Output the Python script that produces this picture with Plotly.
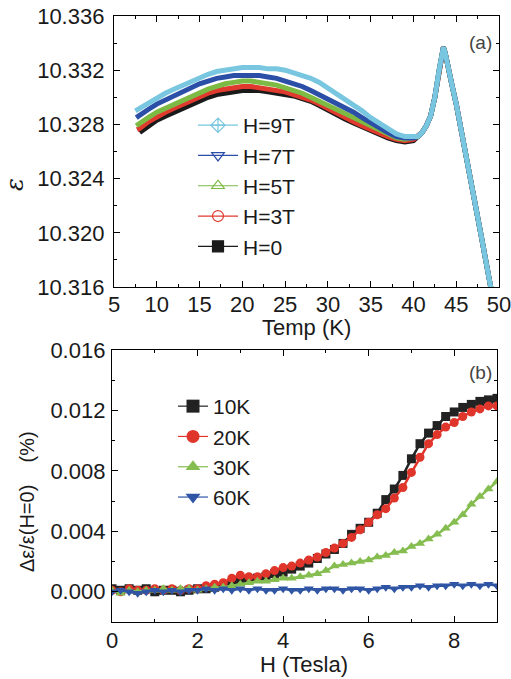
import plotly.graph_objects as go

# ---------------- Panel (a): permittivity vs temperature ----------------
T_low = [8, 9, 10, 11, 12, 13, 14, 15, 16, 17, 18, 19, 20, 21, 22, 23, 24,
         25, 26, 27, 28, 29, 30, 31, 32, 33, 34, 35, 36, 37, 38, 39, 40]
T_tail = [40.5, 41, 41.5, 42, 42.5, 43, 43.3, 43.5, 43.7, 44, 44.5, 45, 45.5,
          46, 46.5, 47, 47.5, 48, 48.5, 49, 49.5, 50]
eps_tail = [10.3271, 10.3274, 10.3279, 10.3286, 10.3300, 10.3320, 10.3332,
            10.3337, 10.3333, 10.3323, 10.3309, 10.3295, 10.3279, 10.3262,
            10.3245, 10.3229, 10.3212, 10.3195, 10.3178, 10.3161, 10.3144,
            10.3127]

a_labels = ["H=0", "H=3T", "H=5T", "H=7T", "H=9T"]
a_colors = ["#1a1a1a", "#e0392e", "#7dba44", "#2b4ea6", "#78c6df"]
a_symbols = ["square", "circle-open", "triangle-up-open",
             "triangle-down-open", "diamond-cross-open"]
a_start_T = [None, 7.7, 7.6, 7.6, 7.5]
a_start_eps = [None, 10.3276, 10.3279, 10.3285, 10.3290]

eps_H0 = [10.3274, 10.3279, 10.3283, 10.3286, 10.3289, 10.3292, 10.3295,
          10.3298, 10.3300, 10.3302, 10.3303, 10.3304, 10.3305, 10.3305,
          10.3305, 10.3304, 10.3303, 10.3302, 10.3301, 10.3299, 10.3297,
          10.3294, 10.3291, 10.3288, 10.3284, 10.3281, 10.3278, 10.3275,
          10.3272, 10.3270, 10.3268, 10.3267, 10.3268]
eps_H3 = [10.3277, 10.3282, 10.3286, 10.3289, 10.3292, 10.3295, 10.3298,
          10.3301, 10.3303, 10.3305, 10.3306, 10.3307, 10.3308, 10.3308,
          10.3307, 10.3306, 10.3305, 10.3304, 10.3302, 10.3300, 10.3298,
          10.3295, 10.3292, 10.3289, 10.3286, 10.3282, 10.3279, 10.3276,
          10.3273, 10.3271, 10.3269, 10.3268, 10.3269]
eps_H5 = [10.3281, 10.3285, 10.3289, 10.3292, 10.3295, 10.3298, 10.3301,
          10.3304, 10.3306, 10.3308, 10.3310, 10.3311, 10.3312, 10.3312,
          10.3311, 10.3310, 10.3309, 10.3307, 10.3305, 10.3303, 10.3300,
          10.3297, 10.3294, 10.3291, 10.3288, 10.3284, 10.3281, 10.3278,
          10.3275, 10.3272, 10.3270, 10.3269, 10.3270]
eps_H7 = [10.3287, 10.3291, 10.3295, 10.3298, 10.3301, 10.3304, 10.3307,
          10.3310, 10.3312, 10.3314, 10.3315, 10.3316, 10.3316, 10.3316,
          10.3316, 10.3315, 10.3314, 10.3312, 10.3310, 10.3308, 10.3305,
          10.3302, 10.3299, 10.3296, 10.3293, 10.3289, 10.3285, 10.3281,
          10.3277, 10.3274, 10.3271, 10.3270, 10.3270]
eps_H9 = [10.3292, 10.3296, 10.3300, 10.3303, 10.3306, 10.3309, 10.3312,
          10.3315, 10.3317, 10.3319, 10.3320, 10.3321, 10.3322, 10.3322,
          10.3322, 10.3321, 10.3321, 10.3320, 10.3318, 10.3316, 10.3314,
          10.3311, 10.3307, 10.3303, 10.3299, 10.3294, 10.3290, 10.3285,
          10.3281, 10.3277, 10.3273, 10.3271, 10.3271]
a_series = [eps_H0, eps_H3, eps_H5, eps_H7, eps_H9]

# ---------------- Panel (b): relative change vs field ----------------
H_tesla = [0.0, 0.2, 0.4, 0.6, 0.8, 1.0, 1.2, 1.4, 1.6, 1.8, 2.0, 2.2, 2.4,
           2.6, 2.8, 3.0, 3.2, 3.4, 3.6, 3.8, 4.0, 4.2, 4.4, 4.6, 4.8, 5.0,
           5.2, 5.4, 5.6, 5.8, 6.0, 6.2, 6.4, 6.6, 6.8, 7.0, 7.2, 7.4, 7.6,
           7.8, 8.0, 8.2, 8.4, 8.6, 8.8, 9.0]
d_10K = [0.0002, 0.0001, 0.0002, 0.0001, 0.0002, 0.0000, 0.0001, 0.0001,
         0.0000, 0.0001, 0.0002, 0.0002, 0.0003, 0.0004, 0.0005, 0.0007,
         0.0008, 0.0009, 0.0010, 0.0012, 0.0013, 0.0015, 0.0017, 0.0019,
         0.0022, 0.0025, 0.0028, 0.0032, 0.0038, 0.0042, 0.0046, 0.0052,
         0.0061, 0.0068, 0.0077, 0.0088, 0.0098, 0.0105, 0.0110, 0.0116,
         0.0119, 0.0122, 0.0124, 0.0126, 0.0127, 0.0128]
d_20K = [0.0001, 0.0000, 0.0002, 0.0001, 0.0001, 0.0002, 0.0001, 0.0002,
         0.0001, 0.0002, 0.0002, 0.0004, 0.0005, 0.0006, 0.0009, 0.0011,
         0.0010, 0.0010, 0.0012, 0.0014, 0.0016, 0.0017, 0.0019, 0.0021,
         0.0023, 0.0026, 0.0029, 0.0032, 0.0036, 0.0041, 0.0046, 0.0051,
         0.0055, 0.0062, 0.0069, 0.0079, 0.0089, 0.0098, 0.0104, 0.0109,
         0.0112, 0.0116, 0.0119, 0.0121, 0.0123, 0.0123]
d_30K = [0.0001, -0.0001, 0.0001, 0.0000, 0.0001, 0.0001, 0.0002, 0.0001,
         0.0002, 0.0002, 0.0001, 0.0002, 0.0003, 0.0003, 0.0004, 0.0005,
         0.0006, 0.0007, 0.0007, 0.0008, 0.0009, 0.0009, 0.0010, 0.0011,
         0.0012, 0.0014, 0.0017, 0.0018, 0.0019, 0.0020, 0.0021, 0.0023,
         0.0024, 0.0026, 0.0027, 0.0030, 0.0032, 0.0035, 0.0038, 0.0042,
         0.0046, 0.0051, 0.0058, 0.0063, 0.0068, 0.0073]
d_60K = [0.0000, 0.0001, 0.0000, -0.0001, 0.0000, 0.0001, 0.0000, 0.0001,
         0.0000, 0.0001, 0.0001, 0.0002, 0.0001, 0.0002, 0.0001, 0.0002,
         0.0001, 0.0002, 0.0001, 0.0001, 0.0002, 0.0001, 0.0001, 0.0002,
         0.0001, 0.0002, 0.0002, 0.0001, 0.0002, 0.0002, 0.0001, 0.0002,
         0.0003, 0.0002, 0.0003, 0.0003, 0.0004, 0.0003, 0.0004, 0.0004,
         0.0005, 0.0004, 0.0005, 0.0004, 0.0005, 0.0004]
b_labels = ["10K", "20K", "30K", "60K"]
b_series = [d_10K, d_20K, d_30K, d_60K]
b_colors = ["#222222", "#e0352b", "#86bd50", "#2f55a4"]
b_symbols = ["square", "circle", "triangle-up", "triangle-down"]

W, Hgt = 511, 679
FONT = "Liberation Sans, Arial, sans-serif"

def px_x(p):
    return p / W

def px_y(p):
    return 1 - p / Hgt

fig = go.Figure()

# panel (a) data (drawn black first so that 9T lies on top)
for i in range(5):
    xs = list(T_low) + list(T_tail)
    ys = list(a_series[i]) + list(eps_tail)
    if a_start_T[i] is not None:
        xs = [a_start_T[i]] + xs
        ys = [a_start_eps[i]] + ys
    fig.add_trace(go.Scatter(x=xs, y=ys, mode="lines", showlegend=False,
                             line=dict(color=a_colors[i], width=5),
                             xaxis="x", yaxis="y", hoverinfo="skip"))
# panel (a) legend entries
for i in [4, 3, 2, 1, 0]:
    fig.add_trace(go.Scatter(x=[None], y=[None], mode="lines+markers",
                             name=a_labels[i], legend="legend",
                             line=dict(color=a_colors[i], width=1.2),
                             marker=dict(symbol=a_symbols[i], size=11,
                                         color=a_colors[i],
                                         line=dict(color=a_colors[i], width=1.2)),
                             xaxis="x", yaxis="y"))

# panel (b) data
for i in range(4):
    fig.add_trace(go.Scatter(x=H_tesla, y=b_series[i], mode="lines+markers",
                             showlegend=False,
                             line=dict(color=b_colors[i], width=2.5),
                             marker=dict(symbol=b_symbols[i], size=9,
                                         color=b_colors[i]),
                             xaxis="x2", yaxis="y2", hoverinfo="skip"))
for i in range(4):
    fig.add_trace(go.Scatter(x=[None], y=[None], mode="lines+markers",
                             name=b_labels[i], legend="legend2",
                             line=dict(color=b_colors[i], width=1.2),
                             marker=dict(symbol=b_symbols[i], size=13,
                                         color=b_colors[i]),
                             xaxis="x2", yaxis="y2"))

axis_common = dict(showline=True, linecolor="black", linewidth=1.3,
                   mirror="ticks", ticks="inside", ticklen=6, tickwidth=1.2,
                   tickcolor="black", showgrid=False, zeroline=False,
                   automargin=False, ticklabeloverflow="allow",
                   tickfont=dict(family=FONT, size=22, color="#1a1a1a"))

def ann(text, x, y, size, angle=0, family=FONT, color="#1a1a1a"):
    return dict(text=text, x=px_x(x), y=px_y(y), xref="paper", yref="paper",
                xanchor="center", yanchor="middle", showarrow=False,
                textangle=angle, font=dict(family=family, size=size,
                                           color=color))

fig.update_layout(
    template="none",
    width=W, height=Hgt,
    margin=dict(l=0, r=0, t=0, b=0, pad=0),
    paper_bgcolor="white", plot_bgcolor="white",
    font=dict(family=FONT, color="#1a1a1a"),
    xaxis=dict(domain=[px_x(114), px_x(499)], anchor="y", range=[5, 50],
               dtick=5, tick0=5, ticklabelstandoff=-3,
               minor=dict(dtick=2.5, ticks="inside", ticklen=3,
                          tickcolor="black"),
               **axis_common),
    yaxis=dict(domain=[px_y(287), px_y(16)], anchor="x",
               range=[10.316, 10.336], dtick=0.004, tick0=10.316,
               tickformat=".3f", ticklabelstandoff=4,
               minor=dict(dtick=0.002, ticks="inside", ticklen=3,
                          tickcolor="black"),
               **axis_common),
    xaxis2=dict(domain=[px_x(112), px_x(497)], anchor="y2", range=[0, 9],
                dtick=2, tick0=0, ticklabelstandoff=-2,
                minor=dict(dtick=1, ticks="inside", ticklen=3,
                           tickcolor="black"),
                **axis_common),
    yaxis2=dict(domain=[px_y(622), px_y(350)], anchor="x2",
                range=[-0.002, 0.016], dtick=0.004, tick0=0,
                tickformat=".3f", ticklabelstandoff=1,
                minor=dict(dtick=0.002, ticks="inside", ticklen=3,
                           tickcolor="black"),
                **axis_common),
    legend=dict(x=px_x(193), y=px_y(105), xanchor="left", yanchor="top",
                bgcolor="rgba(0,0,0,0)", traceorder="normal", itemwidth=40,
                font=dict(family=FONT, size=21, color="#1a1a1a"),
                tracegroupgap=0),
    legend2=dict(x=px_x(173), y=px_y(386), xanchor="left", yanchor="top",
                 bgcolor="rgba(0,0,0,0)", traceorder="normal",
                 font=dict(family=FONT, size=21, color="#1a1a1a"),
                 tracegroupgap=0),
    annotations=[
        ann("Temp (K)", 306, 327, 22),
        ann("H (Tesla)", 304, 664, 22),
        ann("<i>ε</i>", 15, 185, 24, angle=-90, family="DejaVu Serif, serif"),
        ann("Δε/ε(H=0)\u00a0\u00a0\u00a0\u00a0(%)", 27, 502, 20, angle=-90),
        ann("(a)", 480, 42, 19, color="#444444"),
        ann("(b)", 480, 372, 19, color="#444444"),
    ],
)

fig.write_html("out.html", config={"displayModeBar": False},
               post_script="document.body.style.margin='0px';")
